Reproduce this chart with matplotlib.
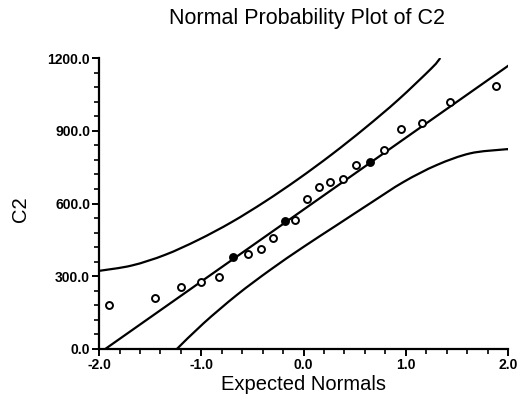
import numpy as np
import matplotlib
matplotlib.use("Agg")
import matplotlib.pyplot as plt
from matplotlib.path import Path
from matplotlib.patches import PathPatch
from matplotlib.ticker import MultipleLocator, FormatStrFormatter

plt.rcParams['font.family'] = ['Liberation Sans', 'DejaVu Sans']

# expected normal scores and observed C2 values
expected = [-1.90, -1.45, -1.20, -1.00, -0.83, -0.69, -0.545, -0.418, -0.301, -0.181, -0.080,
            0.031, 0.147, 0.261, 0.381, 0.515, 0.652, 0.790, 0.958, 1.156, 1.428, 1.878]
c2 = [180, 208, 257, 274, 298, 378, 392, 411, 459, 527, 531,
      617, 670, 690, 702, 759, 770, 820, 906, 934, 1017, 1086]
filled = [5, 9, 16]  # points drawn solid

# fitted line end points
line_x = [-1.938, 2.0]
line_y = [0, 1168]

# confidence bands
upper_x = [-2.0, -1.681, -1.355, -1.029, -0.704, -0.377, -0.052, 0.274, 0.600, 0.926, 1.251, 1.333]
upper_y = [322, 344, 388, 450, 523, 608, 701, 802, 911, 1028, 1158, 1198]
lower_x = [-1.238, -0.977, -0.651, -0.326, 0.0, 0.326, 0.652, 0.978, 1.304, 1.630, 1.955, 2.0]
lower_y = [0, 106, 223, 326, 421, 511, 601, 689, 759, 807, 823, 824]


def smooth_path(xs, ys):
    # catmull-rom through the points, drawn as cubic bezier segments
    p = np.column_stack([xs, ys]).astype(float)
    p = np.vstack([p[0], p, p[-1]])
    verts = [p[1]]
    codes = [Path.MOVETO]
    for i in range(1, len(p) - 2):
        c1 = p[i] + (p[i + 1] - p[i - 1]) / 6
        c2_ = p[i + 1] - (p[i + 2] - p[i]) / 6
        verts += [c1, c2_, p[i + 1]]
        codes += [Path.CURVE4] * 3
    return Path(verts, codes)


fig = plt.figure(figsize=(5.27, 4.01), dpi=100)
ax = fig.add_axes([0.188, 0.130, 0.776, 0.725])

ax.plot(line_x, line_y, color='black', lw=1.6)
for bx, by in [(upper_x, upper_y), (lower_x, lower_y)]:
    ax.add_patch(PathPatch(smooth_path(bx, by), fill=False, ec='black', lw=1.6, capstyle='round'))

ex = np.array(expected)
cy = np.array(c2)
mask = np.zeros(len(ex), dtype=bool)
mask[filled] = True
ax.plot(ex[~mask], cy[~mask], 'o', mfc='white', mec='black', ms=5, mew=1.4)
ax.plot(ex[mask], cy[mask], 'o', mfc='black', mec='black', ms=5, mew=1.4)

ax.set_xlim(-2, 2)
ax.set_ylim(0, 1200)
ax.xaxis.set_major_locator(MultipleLocator(1.0))
ax.xaxis.set_minor_locator(MultipleLocator(0.2))
ax.yaxis.set_major_locator(MultipleLocator(300))
ax.yaxis.set_minor_locator(MultipleLocator(60))
ax.xaxis.set_major_formatter(FormatStrFormatter('%.1f'))
ax.yaxis.set_major_formatter(FormatStrFormatter('%.1f'))

for s in ['top', 'right']:
    ax.spines[s].set_visible(False)
for s in ['left', 'bottom']:
    ax.spines[s].set_linewidth(1.6)
ax.tick_params(which='major', length=5, width=1.4, labelsize=10, pad=1.5)
ax.tick_params(which='minor', length=3.5, width=1.2)
for lab in ax.get_xticklabels() + ax.get_yticklabels():
    lab.set_fontweight('bold')

ax.set_xlabel('Expected Normals', fontsize=14.5, labelpad=2)
ax.set_ylabel('C2', fontsize=14.5)
ax.yaxis.set_label_coords(-0.17, 0.48)
fig.text(0.583, 0.955, 'Normal Probability Plot of C2', ha='center', va='center', fontsize=15.5)

fig.savefig('out.png', dpi=100)
